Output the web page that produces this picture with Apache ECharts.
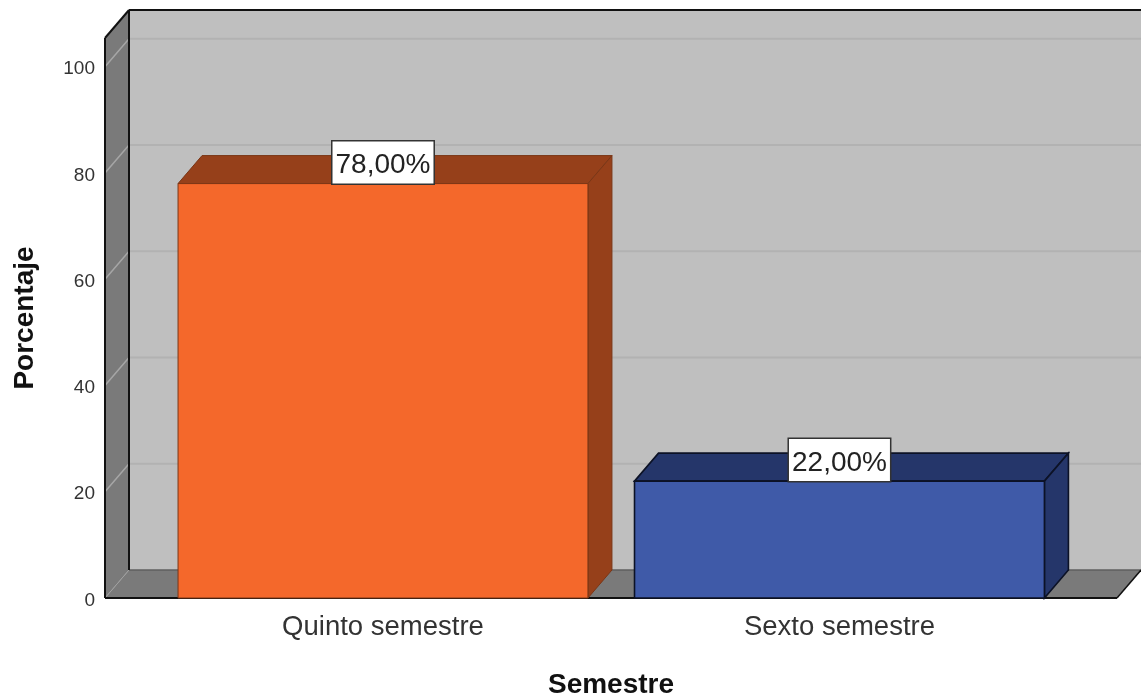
<!DOCTYPE html>
<html>
<head>
<meta charset="utf-8">
<script src="https://cdn.jsdelivr.net/npm/echarts@6/dist/echarts.min.js"></script>
<style>
  html, body { margin: 0; padding: 0; background: #fff; }
  #chart { width: 1141px; height: 698px; }
</style>
</head>
<body>
<div id="chart"></div>
<script>
const categories = ['Quinto semestre', 'Sexto semestre'];
const values = [78, 22];
const yTicks = [0, 20, 40, 60, 80, 100];

const xMin = 0.391;
const xMax = 2.608;
const yMax = 105.4;
const barHalf = 0.449;
// depth of the fake 3d box, in pixels
const depthX = 24;
const depthY = -28;

const faces = [
  { front: '#f4682b', side: '#96401a', line: '#7a3616', width: 1 },
  { front: '#3f5aa8', side: '#25366a', line: '#0c1226', width: 1.6 },
];

const back = (p) => [p[0] + depthX, p[1] + depthY];

const poly = (points, fill, stroke, width) => ({
  type: 'polygon',
  shape: { points },
  style: { fill, stroke: stroke || 'none', lineWidth: width || 1 },
});

const line = (a, b, stroke, width) => ({
  type: 'line',
  shape: { x1: a[0], y1: a[1], x2: b[0], y2: b[1] },
  style: { stroke, lineWidth: width || 1 },
});

const renderWalls = (params, api) => {
  const bl = api.coord([xMin, 0]);
  const tl = api.coord([xMin, yMax]);
  const br = api.coord([xMax, 0]);
  const tr = api.coord([xMax, yMax]);
  const children = [
    poly([back(bl), back(br), back(tr), back(tl)], '#bfbfbf'),
    poly([bl, back(bl), back(tl), tl], '#7a7a7a'),
    poly([bl, br, back(br), back(bl)], '#7a7a7a'),
  ];
  yTicks.forEach((t) => {
    if (t === 0) return;
    const p = api.coord([xMin, t]);
    const q = api.coord([xMax, t]);
    children.push(line(p, back(p), '#a6a6a6', 1.5));
    children.push(line(back(p), back(q), '#b2b2b2', 2));
  });
  children.push(line(bl, back(bl), '#a0a0a0', 1));
  children.push(line(back(bl), back(br), '#5f5f5f', 1.5));
  children.push(line(tl, bl, '#111', 2));
  children.push(line(tl, back(tl), '#111', 2));
  children.push(line(back(tl), back(bl), '#111', 2));
  children.push(line(back(tl), back(tr), '#111', 2));
  children.push(line(bl, br, '#111', 2));
  children.push(line(br, back(br), '#111', 1.5));
  return { type: 'group', children };
};

const renderBar = (params, api) => {
  const x = api.value(0);
  const v = api.value(1);
  const c = faces[params.dataIndex];
  const bl = api.coord([x - barHalf, 0]);
  const br = api.coord([x + barHalf, 0]);
  const tl = api.coord([x - barHalf, v]);
  const tr = api.coord([x + barHalf, v]);
  return {
    type: 'group',
    children: [
      poly([tl, back(tl), back(tr), tr], c.side, c.line, c.width),
      poly([br, tr, back(tr), back(br)], c.side, c.line, c.width),
      poly([bl, br, tr, tl], c.front, c.line, c.width),
    ],
  };
};

const chart = echarts.init(document.getElementById('chart'));
chart.setOption({
  animation: false,
  backgroundColor: '#fff',
  textStyle: { fontFamily: '"Liberation Sans", Arial, sans-serif' },
  grid: { left: 105, right: 24, top: 38, bottom: 100, outerBoundsMode: 'none' },
  xAxis: {
    type: 'value',
    min: xMin,
    max: xMax,
    name: 'Semestre',
    nameLocation: 'middle',
    nameGap: 73,
    nameTextStyle: { fontSize: 28, fontWeight: 'bold', color: '#111' },
    splitLine: { show: false },
    axisLine: { show: false },
    axisTick: { show: false },
    axisLabel: {
      customValues: [1, 2],
      formatter: (v) => categories[v - 1],
      fontSize: 27.5,
      color: '#333',
      margin: 15,
    },
  },
  yAxis: {
    type: 'value',
    min: 0,
    max: yMax,
    interval: 20,
    name: 'Porcentaje',
    nameLocation: 'middle',
    nameGap: 66,
    nameTextStyle: { fontSize: 28, fontWeight: 'bold', color: '#111' },
    splitLine: { show: false },
    axisLine: { show: false },
    axisTick: { show: false },
    axisLabel: {
      customValues: yTicks,
      formatter: (v) => `{t|${v}}`,
      margin: 10,
      rich: {
        t: { fontSize: 19, color: '#333', padding: [5, 0, 0, 0] },
      },
    },
  },
  series: [
    {
      type: 'custom',
      silent: true,
      renderItem: renderWalls,
      data: [[xMin, 0]],
      z: 1,
    },
    {
      type: 'custom',
      silent: true,
      renderItem: renderBar,
      data: values.map((v, i) => [i + 1, v]),
      z: 2,
    },
    {
      type: 'scatter',
      silent: true,
      symbolSize: 0,
      itemStyle: { opacity: 1 },
      data: values.map((v, i) => [i + 1, v]),
      z: 3,
      label: {
        show: true,
        position: 'top',
        distance: 0,
        formatter: (p) => `${p.value[1].toFixed(2).replace('.', ',')}%`,
        fontSize: 28,
        color: '#222',
        backgroundColor: '#fff',
        borderColor: '#333',
        borderWidth: 1.5,
        padding: [10, 3, 4, 3],
      },
    },
  ],
});
</script>
</body>
</html>
